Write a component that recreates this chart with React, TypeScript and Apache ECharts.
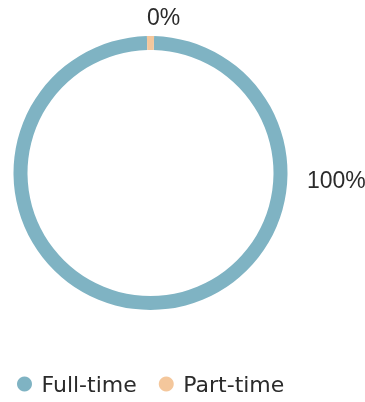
import React, { useEffect, useRef } from "react";
import * as echarts from "echarts";

const categories = ["Full-time", "Part-time"];
const values = [99.6, 0.4];
const colors = ["#7fb3c3", "#f4c79c"];

export default function App() {
  const ref = useRef<HTMLDivElement>(null);
  useEffect(() => {
    const chart = echarts.init(ref.current!, undefined, { renderer: "svg" });
    chart.setOption({
      animation: false,
      color: colors,
      legend: {
        data: categories,
        left: 12,
        top: 368,
        icon: "circle",
        itemWidth: 24,
        itemHeight: 15,
        itemGap: 22,
        textStyle: { fontFamily: "DejaVu Sans", fontSize: 22, color: "#2b2b2b" },
      },
      series: [
        {
          type: "pie",
          center: [150.5, 173],
          radius: [123, 137],
          startAngle: 88.5,
          minAngle: 3,
          percentPrecision: 0,
          avoidLabelOverlap: false,
          label: {
            show: true,
            position: "outside",
            formatter: "{d}%",
            fontFamily: "'Liberation Sans Narrow', 'Liberation Sans', sans-serif",
            fontSize: 23,
            color: "#2b2b2b",
          },
          labelLine: { show: false },
          labelLayout: (p: any) =>
            p.dataIndex === 0
              ? { x: 307, y: 180, align: "left", verticalAlign: "middle" }
              : { x: 147, y: 17, align: "left", verticalAlign: "middle" },
          emphasis: { disabled: true },
          data: categories.map((c, i) => ({ name: c, value: values[i] })),
        },
      ],
    });
    return () => chart.dispose();
  }, []);
  return (
    <div
      ref={ref}
      style={{ position: "fixed", left: 0, top: 0, width: 365, height: 402 }}
    />
  );
}
